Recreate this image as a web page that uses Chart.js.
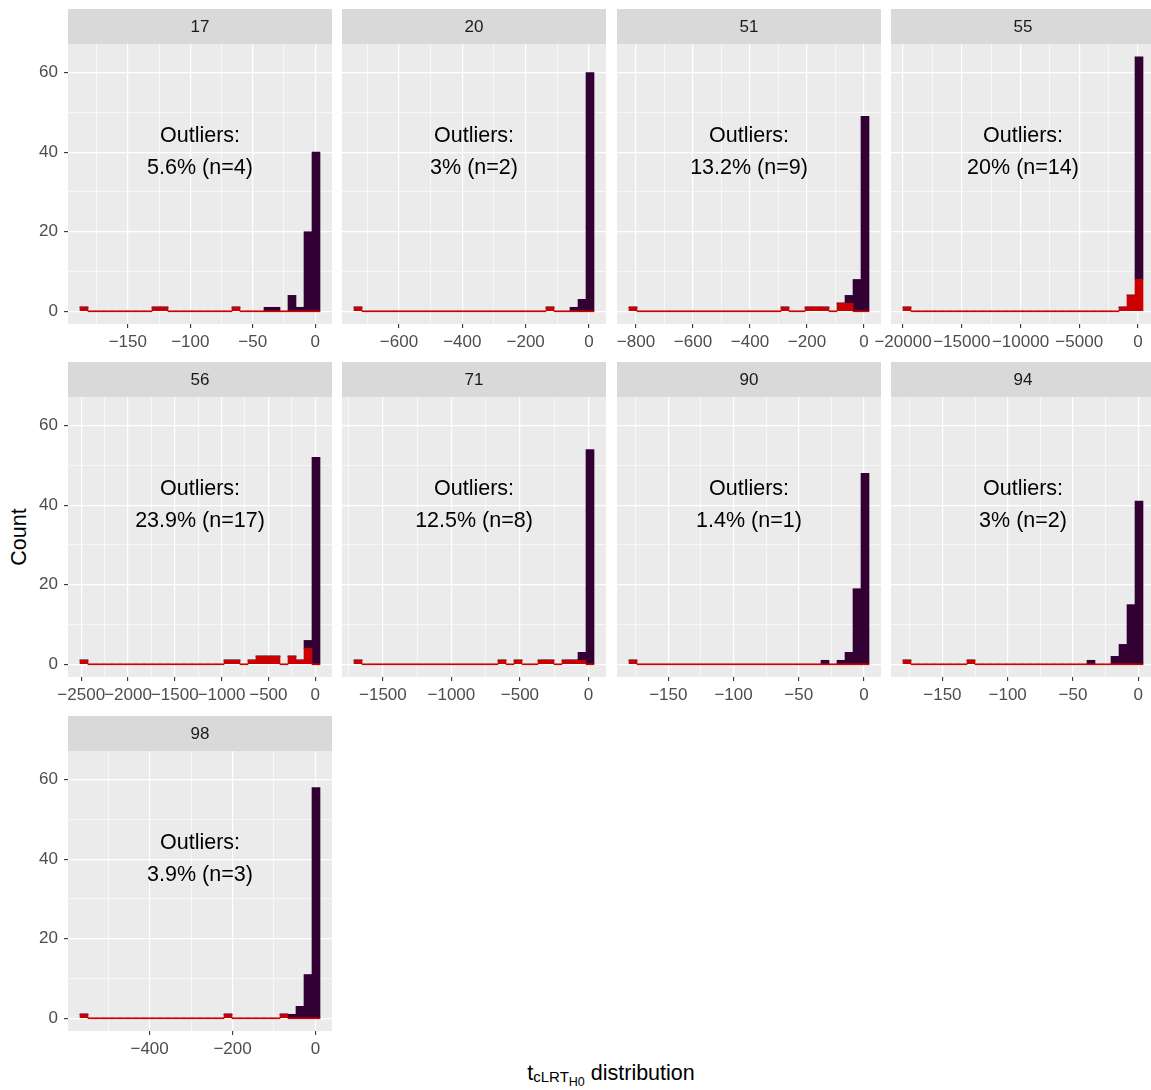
<!DOCTYPE html>
<html>
<head>
<meta charset="utf-8">
<title>tcLRT distribution</title>
<script src="https://cdn.jsdelivr.net/npm/chart.js@4.4.1/dist/chart.umd.min.js"></script>
<style>
  html, body { margin: 0; padding: 0; background: #ffffff; overflow: hidden; }
  body { width: 1151px; height: 1090px; position: relative; font-family: "Liberation Sans", Arial, sans-serif; }
  canvas { position: absolute; }
  #ytitle { position: absolute; left: 20px; top: 537px; transform: translate(-50%, -50%) rotate(-90deg);
            font-size: 21.5px; color: #000; white-space: nowrap; line-height: 1; }
  #xtitle { position: absolute; left: 611px; top: 1063px; transform: translateX(-50%);
            font-size: 21.5px; color: #000; white-space: nowrap; line-height: 1; }
  #xtitle .s1 { font-size: 15px; position: relative; top: 2px; }
  #xtitle .s2 { font-size: 12.5px; position: relative; top: 6px; }
</style>
</head>
<body>
<div id="ytitle">Count</div>
<div id="xtitle">t<span class="s1">cLRT</span><span class="s2">H0</span> distribution</div>
<script>
// facets, one histogram of 30 bins each
const panelIds = ['17', '20', '51', '55', '56', '71', '90', '94', '98'];
// left edge of the first bin and bin width, in tcLRT units
const binStart = [-188.3, -742, -824.6, -20000, -2513, -1711, -180.1, -180.2, -568];
const binWidth = [6.405, 25.26, 28.07, 680.9, 85.5, 58.4, 6.13, 6.13, 19.3];
// spacing of the labelled x breaks
const tickStep = [50, 200, 200, 5000, 500, 500, 50, 50, 200];

// outlier counts per bin (red)
const outlierCounts = [
  [1,0,0,0,0,0,0,0,0,1, 1,0,0,0,0,0,0,0,0,1, 0,0,0,0,0,0,0,0,0,0], // 17
  [1,0,0,0,0,0,0,0,0,0, 0,0,0,0,0,0,0,0,0,0, 0,0,0,0,1,0,0,0,0,0], // 20
  [1,0,0,0,0,0,0,0,0,0, 0,0,0,0,0,0,0,0,0,1, 0,0,1,1,1,0,2,2,0,0], // 51
  [1,0,0,0,0,0,0,0,0,0, 0,0,0,0,0,0,0,0,0,0, 0,0,0,0,0,0,0,1,4,8], // 55
  [1,0,0,0,0,0,0,0,0,0, 0,0,0,0,0,0,0,0,1,1, 0,1,2,2,2,0,2,1,4,0], // 56
  [1,0,0,0,0,0,0,0,0,0, 0,0,0,0,0,0,0,0,1,0, 1,0,0,1,1,0,1,1,1,0], // 71
  [1,0,0,0,0,0,0,0,0,0, 0,0,0,0,0,0,0,0,0,0, 0,0,0,0,0,0,0,0,0,0], // 90
  [1,0,0,0,0,0,0,0,1,0, 0,0,0,0,0,0,0,0,0,0, 0,0,0,0,0,0,0,0,0,0], // 94
  [1,0,0,0,0,0,0,0,0,0, 0,0,0,0,0,0,0,0,1,0, 0,0,0,0,0,1,0,0,0,0]  // 98
];

// remaining counts per bin (dark purple)
const inlierCounts = [
  [0,0,0,0,0,0,0,0,0,0, 0,0,0,0,0,0,0,0,0,0, 0,0,0,1,1,0,4,1,20,40], // 17
  [0,0,0,0,0,0,0,0,0,0, 0,0,0,0,0,0,0,0,0,0, 0,0,0,0,0,0,0,1,3,60],  // 20
  [0,0,0,0,0,0,0,0,0,0, 0,0,0,0,0,0,0,0,0,0, 0,0,0,0,0,0,0,2,8,49],  // 51
  [0,0,0,0,0,0,0,0,0,0, 0,0,0,0,0,0,0,0,0,0, 0,0,0,0,0,0,0,0,0,56],  // 55
  [0,0,0,0,0,0,0,0,0,0, 0,0,0,0,0,0,0,0,0,0, 0,0,0,0,0,0,0,0,2,52],  // 56
  [0,0,0,0,0,0,0,0,0,0, 0,0,0,0,0,0,0,0,0,0, 0,0,0,0,0,0,0,0,2,54],  // 71
  [0,0,0,0,0,0,0,0,0,0, 0,0,0,0,0,0,0,0,0,0, 0,0,0,0,1,0,1,3,19,48], // 90
  [0,0,0,0,0,0,0,0,0,0, 0,0,0,0,0,0,0,0,0,0, 0,0,0,1,0,0,2,5,15,41], // 94
  [0,0,0,0,0,0,0,0,0,0, 0,0,0,0,0,0,0,0,0,0, 0,0,0,0,0,0,1,3,11,58]  // 98
];

const yTicks = [0, 10, 20, 30, 40, 50, 60];
const yMajorStep = 20;

// layout of the facet grid
const stripH = 35, plotH = 280, plotW = 264, axisW = 68, axisH = 30;
const colPitch = 274.33, rowPitch = 353.3, firstTop = 9;

const FONT = '"Liberation Sans", Arial, sans-serif';
Chart.defaults.font.family = FONT;

const RED = '#CC0000';
const PURPLE = '#330033';
const CLEAR = 'rgba(0,0,0,0)';

const fmtTick = v => (v < 0 ? '\u2212' + Math.abs(v) : String(Math.abs(v)));
const sum = arr => arr.reduce((a, b) => a + b, 0);

// grey panel, strip on top and the outlier note
const panelDecor = {
  id: 'panelDecor',
  beforeDraw(chart, args, opts) {
    const { ctx, chartArea: a } = chart;
    ctx.save();
    ctx.fillStyle = '#EBEBEB';
    ctx.fillRect(a.left, a.top, a.right - a.left, a.bottom - a.top);
    ctx.fillStyle = '#D9D9D9';
    ctx.fillRect(a.left, 0, a.right - a.left, a.top);
    ctx.fillStyle = '#1A1A1A';
    ctx.font = '17px ' + FONT;
    ctx.textAlign = 'center';
    ctx.textBaseline = 'middle';
    ctx.fillText(opts.strip, (a.left + a.right) / 2, a.top / 2 + 1);
    ctx.restore();
  },
  afterDatasetsDraw(chart, args, opts) {
    const { ctx, chartArea: a, scales: { y } } = chart;
    const cx = (a.left + a.right) / 2;
    ctx.save();
    ctx.fillStyle = '#000000';
    ctx.font = '21.5px ' + FONT;
    ctx.textAlign = 'center';
    ctx.textBaseline = 'middle';
    ctx.fillText('Outliers:', cx, y.getPixelForValue(44));
    ctx.fillText(opts.note, cx, y.getPixelForValue(36));
    ctx.restore();
  }
};

const drawPanel = (id, i) => {
  const col = i % 4;
  const row = Math.floor(i / 4);

  const canvas = document.createElement('canvas');
  canvas.width = axisW + plotW;
  canvas.height = stripH + plotH + axisH;
  canvas.style.left = Math.round(col * colPitch) + 'px';
  canvas.style.top = Math.round(firstTop + row * rowPitch) + 'px';
  document.body.appendChild(canvas);

  const lo = binStart[i], w = binWidth[i], step = tickStep[i];
  const centers = outlierCounts[i].map((_, k) => lo + (k + 0.5) * w);
  const xMin = lo - 1.5 * w;
  const xMax = lo + 31.5 * w;

  // breaks every half step; the even ones are labelled
  const half = step / 2;
  const xTicks = [];
  for (let k = Math.ceil(xMin / half); k <= Math.floor(xMax / half); k++) xTicks.push(k * half);
  const isMajorX = v => Math.abs(v / step - Math.round(v / step)) < 1e-6;
  const isMajorY = v => v % yMajorStep === 0;

  const nOut = sum(outlierCounts[i]);
  const nAll = nOut + sum(inlierCounts[i]);
  const pct = Math.round(nOut / nAll * 1000) / 10;
  const note = pct + '% (n=' + nOut + ')';

  const red = outlierCounts[i];
  const purple = inlierCounts[i];

  // empty purple bins only show as a thin edge when they sit on top of red
  const bars = (counts, color, keep) => ({
    data: centers.map((x, k) => ({ x, y: keep(k) ? counts[k] : null })),
    backgroundColor: color,
    borderWidth: 0,
    minBarLength: 1,
    barPercentage: 1,
    categoryPercentage: 1
  });

  new Chart(canvas, {
    type: 'bar',
    data: {
      datasets: [
        bars(red, RED, () => true),
        bars(purple, PURPLE, k => purple[k] > 0 || red[k] > 0)
      ]
    },
    options: {
      responsive: false,
      animation: false,
      devicePixelRatio: 1,
      layout: { padding: { top: stripH, left: 0, right: 0, bottom: 0 } },
      plugins: {
        legend: { display: false },
        tooltip: { enabled: false },
        panelDecor: { strip: id, note }
      },
      scales: {
        x: {
          type: 'linear',
          stacked: true,
          offset: false,
          min: xMin,
          max: xMax,
          afterBuildTicks: s => { s.ticks = xTicks.map(v => ({ value: v })); },
          afterFit: s => { s.height = axisH; s.paddingLeft = 0; s.paddingRight = 0; },
          border: { display: false },
          grid: {
            offset: false,
            color: '#FFFFFF',
            lineWidth: c => (isMajorX(c.tick.value) ? 1.2 : 0.6),
            drawTicks: true,
            tickLength: 4,
            tickWidth: 1.1,
            tickColor: c => (isMajorX(c.tick.value) ? '#333333' : CLEAR)
          },
          ticks: {
            autoSkip: false,
            maxRotation: 0,
            minRotation: 0,
            padding: 4,
            color: '#4D4D4D',
            font: { size: 17 },
            callback: v => (isMajorX(v) ? fmtTick(v) : '')
          }
        },
        y: {
          stacked: true,
          min: -3.2,
          max: 67.2,
          afterBuildTicks: s => { s.ticks = yTicks.map(v => ({ value: v })); },
          afterFit: s => { s.width = axisW; s.paddingTop = 0; s.paddingBottom = 0; },
          border: { display: false },
          grid: {
            color: '#FFFFFF',
            lineWidth: c => (isMajorY(c.tick.value) ? 1.2 : 0.6),
            drawTicks: true,
            tickLength: 4,
            tickWidth: 1.1,
            tickColor: c => (col === 0 && isMajorY(c.tick.value) ? '#333333' : CLEAR)
          },
          ticks: {
            display: col === 0,
            autoSkip: false,
            padding: 6,
            color: '#4D4D4D',
            font: { size: 17 },
            callback: v => (isMajorY(v) ? String(v) : '')
          }
        }
      }
    },
    plugins: [panelDecor]
  });
};

panelIds.forEach(drawPanel);
</script>
</body>
</html>
